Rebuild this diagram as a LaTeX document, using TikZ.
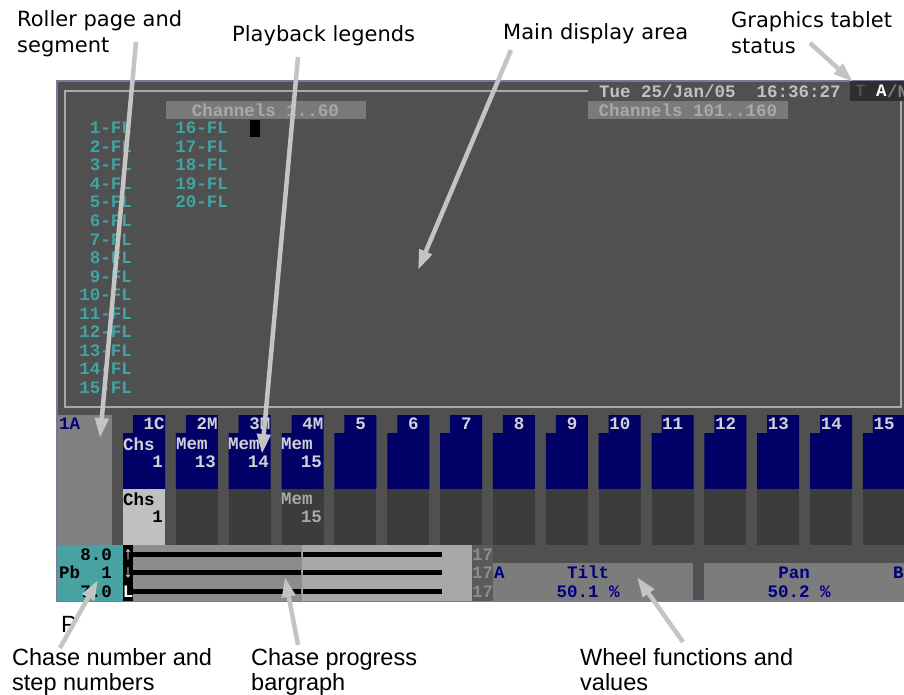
\documentclass[tikz,border=0pt]{standalone}
\usepackage{fontspec}
\usepackage{tikz}
\usetikzlibrary{positioning,arrows.meta}
\newfontfamily\scrfam{Liberation Mono}
\newfontfamily\calloutfam{DejaVu Sans}
\newfontfamily\notefam{Liberation Sans}
\newcommand{\scrfont}{\scrfam\bfseries\fontsize{17.5}{18.5}\selectfont}
\newcommand{\calloutfont}{\calloutfam\fontsize{21}{26}\selectfont}
\newcommand{\notefont}{\notefam\fontsize{23.5}{25}\selectfont}
\definecolor{scrbg}{RGB}{80,80,80}
\definecolor{scredge}{RGB}{120,120,155}
\definecolor{frameline}{RGB}{168,168,168}
\definecolor{datetxt}{RGB}{192,192,192}
\definecolor{chanbox}{RGB}{122,122,122}
\definecolor{chantxt}{RGB}{168,168,168}
\definecolor{flteal}{RGB}{64,164,164}
\definecolor{pbgrey}{RGB}{128,128,128}
\definecolor{pbnavy}{RGB}{0,0,128}
\definecolor{pbblue}{RGB}{0,0,102}
\definecolor{pbdark}{RGB}{60,60,60}
\definecolor{pblight}{RGB}{192,192,192}
\definecolor{pbtext}{RGB}{210,210,210}
\definecolor{chaseteal}{RGB}{72,162,162}
\definecolor{barleft}{RGB}{140,140,140}
\definecolor{barright}{RGB}{168,168,168}
\definecolor{stepcol}{RGB}{90,90,90}
\definecolor{steptxt}{RGB}{140,140,140}
\definecolor{wheelbox}{RGB}{124,124,124}
\definecolor{statusbox}{RGB}{46,46,46}
\definecolor{callgrey}{RGB}{196,196,196}

\begin{document}
\begin{tikzpicture}[x=1pt, y=-1pt, every node/.style={inner sep=0pt},
    scr/.style={font=\scrfont},
    fl/.style={scr, text=flteal, node distance=-0.35pt, minimum height=18.5pt, text width=70pt, align=right},
    callout/.style={font=\calloutfont, align=left, anchor=north west},
    note/.style={font=\notefont, align=left, anchor=north west},
    pointer/.style={draw=callgrey, line width=4.5pt, -{Triangle[width=13pt,length=20pt]}}]

    \fill[white] (0,0) rectangle (904,694);
    \useasboundingbox (0,0) rectangle (904,694);

    \filldraw[fill=scrbg, draw=scredge, line width=1.5pt] (57,81) rectangle (920,601);
    \draw[frameline, line width=2pt] (588,91) -- (65,91) -- (65,407) -- (901,407) -- (901,101);

    \node[scr, text=datetxt, anchor=west] (date) at (599,91) {Tue 25/Jan/05\ \ 16:36:27};
    \fill[statusbox] (850,81) rectangle (904,101);
    \node[scr, text=scrbg, anchor=west] (tmode) at (855,91) {T};
    \node[scr, text=white, anchor=west] (amode) at (876,91) {A};
    \node[scr, text=pbgrey, anchor=west] (nmode) at (887,91) {/N};

    \node[scr, fill=chanbox, text=chantxt, minimum width=200pt, minimum height=18pt] (chan1) at (265.5,110) {Channels 1..60};
    \node[scr, fill=chanbox, text=chantxt, minimum width=200pt, minimum height=18pt] (chan2) at (688,110) {Channels 101..160};
    \fill[black] (250,120) rectangle (260,137);

    \node[fl, anchor=east] (fl1) at (132,128) {1-FL};
    \node[fl, below=of fl1] (fl2) {2-FL};
    \node[fl, below=of fl2] (fl3) {3-FL};
    \node[fl, below=of fl3] (fl4) {4-FL};
    \node[fl, below=of fl4] (fl5) {5-FL};
    \node[fl, below=of fl5] (fl6) {6-FL};
    \node[fl, below=of fl6] (fl7) {7-FL};
    \node[fl, below=of fl7] (fl8) {8-FL};
    \node[fl, below=of fl8] (fl9) {9-FL};
    \node[fl, below=of fl9] (fl10) {10-FL};
    \node[fl, below=of fl10] (fl11) {11-FL};
    \node[fl, below=of fl11] (fl12) {12-FL};
    \node[fl, below=of fl12] (fl13) {13-FL};
    \node[fl, below=of fl13] (fl14) {14-FL};
    \node[fl, below=of fl14] (fl15) {15-FL};

    \node[fl, anchor=east] (fl16) at (228,128) {16-FL};
    \node[fl, below=of fl16] (fl17) {17-FL};
    \node[fl, below=of fl17] (fl18) {18-FL};
    \node[fl, below=of fl18] (fl19) {19-FL};
    \node[fl, below=of fl19] (fl20) {20-FL};

    \fill[pbgrey] (58,415) rectangle (112,545);
    \node[scr, text=pbnavy, anchor=west] (roll) at (59,424) {1A};

    \foreach \i in {1,...,15} {
        \pgfmathsetmacro\xl{123+52.85*(\i-1)}
        \fill[pbblue] (\xl,433) -- (\xl+10,433) -- (\xl+10,415) -- (\xl+42,415) -- (\xl+42,489) -- (\xl,489) -- cycle;
        \fill[pbdark] (\xl,489) rectangle (\xl+42,545);
    }
    \fill[pblight] (123,489) rectangle (165,545);

    \foreach \i/\t/\a in {1/1C/right,2/2M/right,3/3M/right,4/4M/right,5/5/center,6/6/center,7/7/center,8/8/center,
        9/9/center,10/10/left,11/11/left,12/12/left,13/13/left,14/14/left,15/15/left}
        \node[scr, text=pbtext, text width=31pt, align=\a, anchor=west] (tab\i) at (123+52.85*\i-52.85+10.5,424) {\t};

    \node[scr, text=pbtext, anchor=west] (chs1) at (123,444) {Chs};
    \node[scr, text=pbtext, anchor=east] (num1) at (163,462) {1};
    \node[scr, text=pbtext, anchor=west] (mem2) at (176,444) {Mem};
    \node[scr, text=pbtext, anchor=east] (num2) at (216,462) {13};
    \node[scr, text=pbtext, anchor=west] (mem3) at (228,444) {Mem};
    \node[scr, text=pbtext, anchor=east] (num3) at (269,462) {14};
    \node[scr, text=pbtext, anchor=west] (mem4) at (281,444) {Mem};
    \node[scr, text=pbtext, anchor=east] (num4) at (322,462) {15};
    \node[scr, text=black, anchor=west] (chsb1) at (123,499) {Chs};
    \node[scr, text=black, anchor=east] (numb1) at (163,517) {1};
    \node[scr, text=chantxt, anchor=west] (memb4) at (281,499) {Mem};
    \node[scr, text=chantxt, anchor=east] (numb4) at (322,517) {15};

    \fill[chaseteal] (57,545) rectangle (123,601);
    \node[scr, text=black, anchor=east] (upper) at (112,554.5) {8.0};
    \node[scr, text=black, anchor=west] (pb) at (59,572.5) {Pb};
    \node[scr, text=black, anchor=east] (chase) at (112,572.5) {1};
    \node[scr, text=black, anchor=east] (lower) at (112,591.5) {7.0};

    \fill[black] (123,545) rectangle (133,601);
    \node[scr, text=white] (up) at (128,554.5) {↑};
    \node[scr, text=white] (down) at (128,572.5) {↓};
    \node[scr, text=white] (loop) at (128,591.5) {L};

    \fill[barleft] (133,545) rectangle (302,601);
    \fill[barright] (302,545) rectangle (472,601);
    \foreach \y in {554.5,572.5,591.5} {
        \fill[black] (133,\y-2.5) rectangle (301,\y+2.5);
        \fill[black] (303,\y-2.5) rectangle (442,\y+2.5);
    }

    \fill[stepcol] (472,545) rectangle (493,601);
    \node[scr, text=steptxt, anchor=west] (step1) at (472,554.5) {17};
    \node[scr, text=steptxt, anchor=west] (step2) at (472,572.5) {17};
    \node[scr, text=steptxt, anchor=west] (step3) at (472,591.5) {17};

    \fill[wheelbox] (493,563) rectangle (693,601);
    \fill[wheelbox] (704,563) rectangle (920,601);
    \node[scr, text=pbnavy, anchor=west] (wheela) at (494,572.5) {A};
    \node[scr, text=pbnavy] (tilt) at (588,572.5) {Tilt};
    \node[scr, text=pbnavy] (tiltval) at (588,591.5) {50.1 \%};
    \node[scr, text=pbnavy] (pan) at (794,572.5) {Pan};
    \node[scr, text=pbnavy] (panval) at (799,591.5) {50.2 \%};
    \node[scr, text=pbnavy, anchor=west] (wheelb) at (893,572.5) {B};

    \node[callout] (roller) at (17,10) {Roller page and\\segment};
    \node[callout] (legends) at (232,25) {Playback legends};
    \node[callout] (maindisp) at (503,23) {Main display area};
    \node[callout] (tablet) at (731,11) {Graphics tablet\\status};
    \node[note] (chasenum) at (12,648) {Chase number and\\step numbers};
    \node[note] (progress) at (251,648) {Chase progress\\bargraph};
    \node[note] (wheels) at (580,648) {Wheel functions and\\values};
    \node[note] (cutp) at (61,616) {P};

    \coordinate (rollerfoot) at (136,42);
    \coordinate (rollertip) at (100,438);
    \coordinate (legendsfoot) at (298,57);
    \coordinate (legendstip) at (262,454);
    \coordinate (mainfoot) at (511,50);
    \coordinate (maintip) at (418,270);
    \coordinate (tabletfoot) at (810,43);
    \coordinate (tablettip) at (853,82);
    \coordinate (chasefoot) at (60,648);
    \coordinate (chasetip) at (98,580);
    \coordinate (progressfoot) at (298,645);
    \coordinate (progresstip) at (285,577);
    \coordinate (wheelsfoot) at (683,642);
    \coordinate (wheelstip) at (637,577);

    \draw[pointer] (rollerfoot) -- (rollertip);
    \draw[pointer] (legendsfoot) -- (legendstip);
    \draw[pointer] (mainfoot) -- (maintip);
    \draw[pointer] (tabletfoot) -- (tablettip);
    \draw[pointer] (chasefoot) -- (chasetip);
    \draw[pointer] (progressfoot) -- (progresstip);
    \draw[pointer] (wheelsfoot) -- (wheelstip);
\end{tikzpicture}
\end{document}
